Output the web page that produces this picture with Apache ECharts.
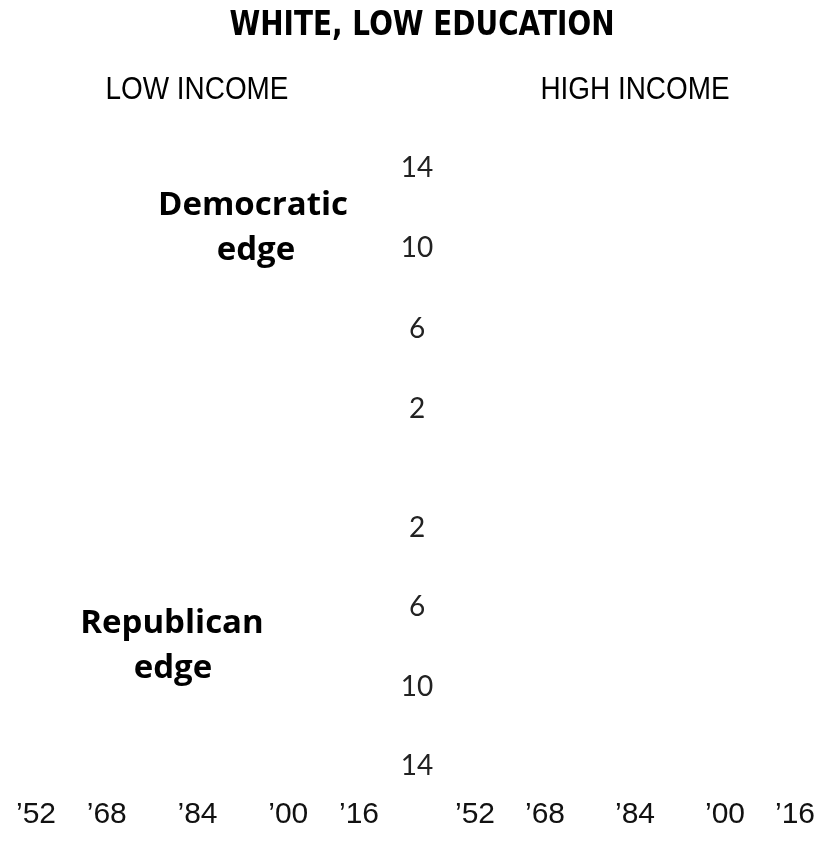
<!DOCTYPE html>
<html lang="en">
<head>
    <meta charset="UTF-8">
    <title>White, low education</title>
    <script src="https://cdn.jsdelivr.net/npm/echarts@6/dist/echarts.min.js"></script>
    <style>
        html, body { margin: 0; padding: 0; background: #fff; }
    </style>
</head>
<body>
    <div id="chart" style="width:818px;height:848px;"></div>

    <script>
        // election years on the x axis (labels shown as '52 ... '16)
        var years = [1952, 1968, 1984, 2000, 2016];
        // margin values in points: nothing is drawn in the reference, so the series are empty
        var demLowIncome = [];
        var demHighIncome = [];
        var repLowIncome = [];
        var repHighIncome = [];
        // y tick labels shown in the middle column
        var yTicks = [2, 6, 10, 14];

        var sans = '"Liberation Sans", Arial, sans-serif';
        var digits = 'Lato, "Noto Sans", sans-serif';
        var heavy = '"Open Sans", "Noto Sans", sans-serif';

        function xAxis(gridIndex, showLabels) {
            return {
                type: 'value',
                gridIndex: gridIndex,
                min: 1952,
                max: 2016,
                interval: 16,
                axisLine: { show: false },
                axisTick: { show: false },
                splitLine: { show: false },
                axisLabel: {
                    show: showLabels,
                    margin: 34,
                    fontFamily: sans,
                    fontSize: 30,
                    color: '#111',
                    alignMinLabel: 'left',
                    alignMaxLabel: 'right',
                    formatter: function (v) {
                        return '\u2019' + String(v).slice(2);
                    }
                }
            };
        }

        function yAxis(gridIndex, inverse, showLabels) {
            return {
                type: 'value',
                gridIndex: gridIndex,
                min: 0,
                max: 14,
                interval: 2,
                inverse: inverse,
                position: 'right',
                axisLine: { show: false },
                axisTick: { show: false },
                splitLine: { show: false },
                axisLabel: {
                    show: showLabels,
                    align: 'center',
                    margin: 38,
                    fontFamily: digits,
                    fontSize: 28,
                    color: '#222',
                    formatter: function (v) {
                        return yTicks.indexOf(v) >= 0 ? String(v) : '';
                    }
                }
            };
        }

        function pairs(values) {
            var out = [];
            for (var i = 0; i < values.length; i++) out.push([years[i], values[i]]);
            return out;
        }

        // text label helper for the headings and side notes
        function note(text, x, y, font, scaleX) {
            return {
                type: 'text', x: x, y: y, scaleX: scaleX || 1,
                style: { text: text, align: 'center', verticalAlign: 'middle', font: font, fill: '#000' }
            };
        }

        var chart = echarts.init(document.getElementById('chart'));
        var option = {
            animation: false,
            grid: [
                { left: 16, width: 363, top: 168, height: 281 },
                { left: 455, width: 361, top: 168, height: 281 },
                { left: 16, width: 363, top: 488, height: 278 },
                { left: 455, width: 361, top: 488, height: 278 }
            ],
            xAxis: [xAxis(0, false), xAxis(1, false), xAxis(2, true), xAxis(3, true)],
            yAxis: [yAxis(0, false, true), yAxis(1, false, false), yAxis(2, true, true), yAxis(3, true, false)],
            series: [
                { type: 'bar', xAxisIndex: 0, yAxisIndex: 0, data: pairs(demLowIncome), itemStyle: { color: '#3b6fb6' } },
                { type: 'bar', xAxisIndex: 1, yAxisIndex: 1, data: pairs(demHighIncome), itemStyle: { color: '#3b6fb6' } },
                { type: 'bar', xAxisIndex: 2, yAxisIndex: 2, data: pairs(repLowIncome), itemStyle: { color: '#c8413b' } },
                { type: 'bar', xAxisIndex: 3, yAxisIndex: 3, data: pairs(repHighIncome), itemStyle: { color: '#c8413b' } }
            ],
            graphic: [
                note('WHITE, LOW EDUCATION', 422, 26, 'bold 33px "DejaVu Sans", sans-serif', 0.845),
                note('LOW INCOME', 197, 90, '31px ' + sans, 0.9),
                note('HIGH INCOME', 635, 90, '31px ' + sans, 0.9),
                note('Democratic', 253, 206, 'bold 33px ' + heavy),
                note('edge', 256, 251, 'bold 33px ' + heavy),
                note('Republican', 172, 624, 'bold 33px ' + heavy),
                note('edge', 173, 669, 'bold 33px ' + heavy)
            ]
        };
        chart.setOption(option);
    </script>
</body>
</html>
